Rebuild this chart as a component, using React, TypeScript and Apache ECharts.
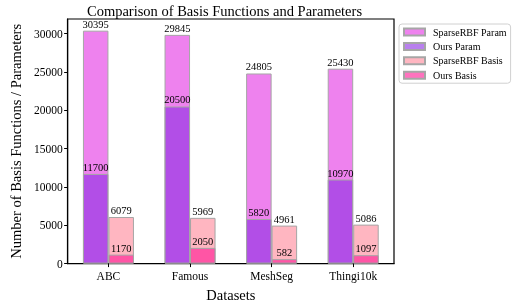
import React, { useEffect, useRef } from "react";
import * as echarts from "echarts";

const categories = ["ABC", "Famous", "MeshSeg", "Thingi10k"];
const sparseParam = [30395, 29845, 24805, 25430];
const oursParam = [11700, 20500, 5820, 10970];
const sparseBasis = [6079, 5969, 4961, 5086];
const oursBasis = [1170, 2050, 582, 1097];
const yTicks = [0, 5000, 10000, 15000, 20000, 25000, 30000];

const FONT = "'Liberation Serif', 'Times New Roman', 'DejaVu Serif', serif";

export default function App() {
  const ref = useRef<HTMLDivElement>(null);
  useEffect(() => {
    if (!ref.current) return;
    const chart = echarts.init(ref.current, undefined, { renderer: "svg" });
    const border = { borderColor: "#a6a6a6", borderWidth: 1 };
    const label = {
      show: true,
      position: "top" as const,
      distance: 1,
      color: "#000",
      fontFamily: FONT,
      fontSize: 10.5,
      formatter: (p: any) => String(p.value),
    };
    const bw = 25.5;
    chart.setOption({
      animation: false,
      title: {
        text: "Comparison of Basis Functions and Parameters",
        left: 224.5,
        textAlign: "center",
        top: 3,
        padding: 0,
        textStyle: { fontFamily: FONT, fontSize: 14.5, fontWeight: "normal", color: "#000" },
      },
      legend: {
        orient: "vertical",
        left: 399,
        top: 24,
        icon: "rect",
        data: ["SparseRBF Param", "Ours Param", "SparseRBF Basis", "Ours Basis"],
        itemWidth: 21,
        itemHeight: 7,
        itemGap: 2.4,
        padding: [2, 4, 2, 4],
        borderColor: "#d0d0d0",
        borderWidth: 1,
        borderRadius: 3,
        textStyle: { fontFamily: FONT, fontSize: 10, color: "#000", lineHeight: 12, padding: [0, 0, 0, 3] },
      },
      grid: {
        left: 55,
        right: 122,
        top: 19,
        bottom: 38,
        show: true,
        borderColor: "#000",
        borderWidth: 1.2,
        backgroundColor: "transparent",
      },
      xAxis: [
        {
          type: "category",
          data: categories,
          name: "Datasets",
          nameLocation: "middle",
          nameGap: 18,
          nameTextStyle: { fontFamily: FONT, fontSize: 14.5, color: "#000" },
          axisLine: { show: true, lineStyle: { color: "#000", width: 1.2 } },
          axisTick: { show: true, alignWithLabel: true, length: 3.5, lineStyle: { color: "#000" } },
          axisLabel: { fontFamily: FONT, fontSize: 11.5, color: "#000", margin: 6.5 },
        },
        {
          type: "category",
          data: categories,
          show: false,
        },
      ],
      yAxis: {
        type: "value",
        min: 0,
        max: 31915,
        interval: 5000,
        name: "Number of Basis Functions / Parameters",
        nameLocation: "middle",
        nameGap: 36,
        nameTextStyle: { fontFamily: FONT, fontSize: 14.5, color: "#000" },
        splitLine: { show: false },
        axisLine: { show: true, lineStyle: { color: "#000", width: 1.2 } },
        axisTick: { show: true, length: 3.5, lineStyle: { color: "#000" }, customValues: yTicks },
        axisLabel: {
          fontFamily: FONT,
          fontSize: 11.5,
          color: "#000",
          margin: 5,
          customValues: yTicks,
          formatter: (v: number) => String(v),
        },
      },
      series: [
        {
          name: "SparseRBF Param",
          type: "bar",
          xAxisIndex: 0,
          data: sparseParam,
          barWidth: bw,
          barGap: "0%",
          itemStyle: { color: "#ee82ee", ...border },
          label,
        },
        {
          name: "SparseRBF Basis",
          type: "bar",
          xAxisIndex: 0,
          data: sparseBasis,
          barWidth: bw,
          barGap: "0%",
          itemStyle: { color: "#ffb6c1", ...border },
          label,
        },
        {
          name: "Ours Param",
          type: "bar",
          xAxisIndex: 1,
          data: oursParam,
          barWidth: bw,
          barGap: "0%",
          itemStyle: { color: "rgba(138,43,226,0.6)", ...border },
          label,
        },
        {
          name: "Ours Basis",
          type: "bar",
          xAxisIndex: 1,
          data: oursBasis,
          barWidth: bw,
          barGap: "0%",
          itemStyle: { color: "rgba(255,20,147,0.6)", ...border },
          label,
        },
      ],
    });
    return () => chart.dispose();
  }, []);
  return (
    <div
      ref={ref}
      style={{ position: "fixed", left: 0, top: 0, width: 516, height: 307 }}
    />
  );
}
